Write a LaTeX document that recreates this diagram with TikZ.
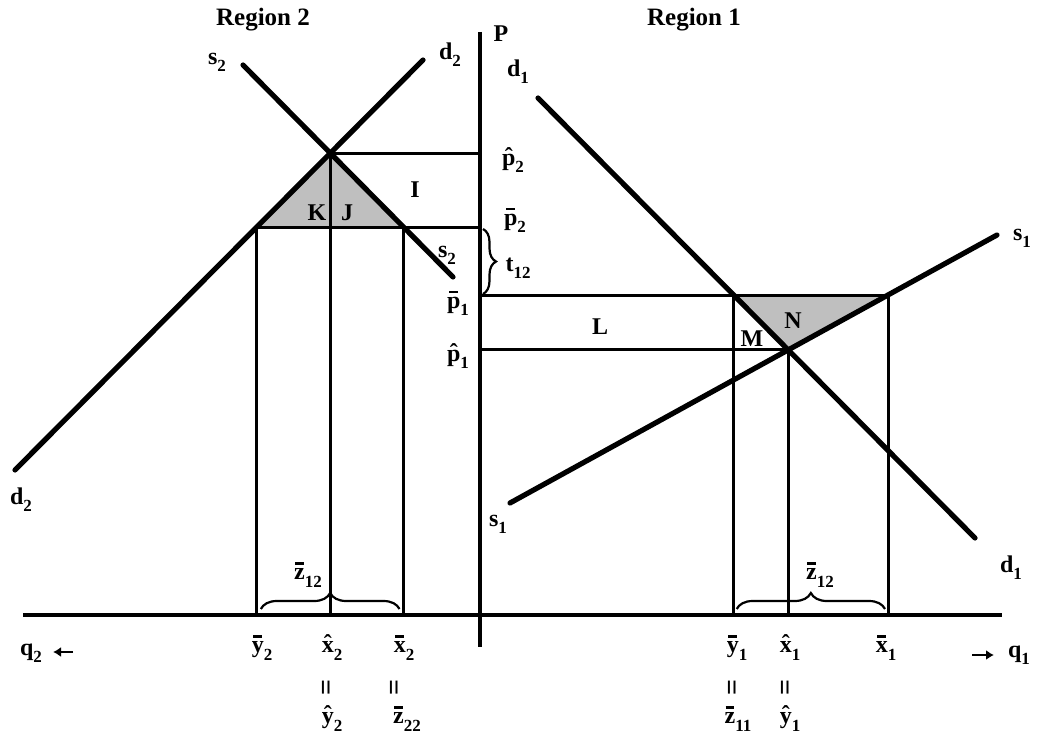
\documentclass[tikz,border=0pt]{standalone}
\usepackage{fontspec}
\setmainfont{Liberation Serif}
\usetikzlibrary{decorations.pathreplacing,arrows.meta,calc}
\newcommand\sbs[1]{\raisebox{-0.3em}{\fontsize{17}{17}\selectfont #1}}
\newcommand\hatac[1]{\ooalign{#1\cr\hidewidth\raisebox{0.04em}{\char"02C6}\hidewidth\cr}}
\newcommand\barac[1]{\ooalign{#1\cr\hidewidth\raisebox{0.64em}{\rule{0.36em}{0.09em}}\hidewidth\cr}}
\begin{document}
\begin{tikzpicture}[x=1pt,y=-1pt,
  every node/.style={inner sep=0pt, font=\fontsize{24}{24}\selectfont\bfseries},
  curve/.style={line width=5.2pt, line cap=round},
  guide/.style={line width=3pt},
  axisline/.style={line width=4.4pt},
  shade/.style={fill=black!25},
  brc/.style={decorate, decoration={brace, amplitude=#1}, line width=2.2pt},
  ttl/.style={font=\fontsize{25}{25}\selectfont\bfseries, anchor=base},
  eqs/.style={rotate=90, font=\fontsize{28}{28}\selectfont\bfseries},
  qarrow/.style={line width=2.8pt, -{Latex[length=8pt,width=10pt]}}]
\path[use as bounding box] (0,0) rectangle (1043,738);
% axes
\coordinate (Ptop) at (480,32);
\coordinate (Pbot) at (480,647);
\coordinate (Ql) at (23,615);
\coordinate (Qr) at (1002,615);
% region 2 curves
\coordinate (s2a) at (243,65);
\coordinate (s2b) at (453,277);
\coordinate (d2a) at (15,470);
\coordinate (d2b) at (423,60);
\coordinate (E2) at (intersection of s2a--s2b and d2a--d2b);
\coordinate (h2a) at (0,227);
\coordinate (h2b) at (480,227);
\coordinate (A2) at (intersection of d2a--d2b and h2a--h2b);
\coordinate (B2) at (intersection of s2a--s2b and h2a--h2b);
% region 1 curves
\coordinate (d1a) at (538,98);
\coordinate (d1b) at (975,538);
\coordinate (s1a) at (510,503);
\coordinate (s1b) at (997,235);
\coordinate (E1) at (intersection of d1a--d1b and s1a--s1b);
\coordinate (h1a) at (480,295);
\coordinate (h1b) at (1000,295);
\coordinate (A1) at (intersection of d1a--d1b and h1a--h1b);
\coordinate (B1) at (intersection of s1a--s1b and h1a--h1b);
% shaded triangles
\fill[shade] (A2) -- (E2) -- (B2) -- cycle;
\fill[shade] (A1) -- (B1) -- (E1) -- cycle;
% guide lines
\draw[guide] (E2) -- (E2 -| Ptop);
\draw[guide] (A2) -- (A2 -| Ptop);
\draw[guide] (A2) -- (A2 |- Ql);
\draw[guide] (E2) -- (E2 |- Ql);
\draw[guide] (B2) -- (B2 |- Ql);
\draw[guide] (B1 -| Ptop) -- (B1);
\draw[guide] (E1 -| Ptop) -- (E1);
\draw[guide] (A1) -- (A1 |- Ql);
\draw[guide] (E1) -- (E1 |- Ql);
\draw[guide] (B1) -- (B1 |- Ql);
% curves
\draw[curve] (s2a) -- (s2b);
\draw[curve] (d2a) -- (d2b);
\draw[curve] (d1a) -- (d1b);
\draw[curve] (s1a) -- (s1b);
% axes
\draw[axisline] (Ptop) -- (Pbot);
\draw[axisline] (Ql) -- (Qr);
% braces
\coordinate (bl1) at ($(A2 |- Ql)+(4,-6)$);
\coordinate (bl2) at ($(B2 |- Ql)+(-4,-6)$);
\draw[brc=16pt] (bl1) -- (bl2);
\coordinate (br1) at ($(A1 |- Ql)+(3,-6)$);
\coordinate (br2) at ($(B1 |- Ql)+(-3,-6)$);
\draw[brc=16pt] (br1) -- (br2);
\coordinate (t1) at ($(A2 -| Ptop)+(3,2)$);
\coordinate (t2) at ($(A1 -| Ptop)+(3,-1)$);
\draw[brc=13pt] (t1) -- (t2);
% titles
\node[ttl] (r2) at (263,26) {Region 2};
\node[ttl] (r1) at (694,26) {Region 1};
\node (P) at (501,34) {P};
% curve labels
\node (s2up) at (217,62) {s\sbs{2}};
\node (d2up) at (450,55) {d\sbs{2}};
\node (s2lo) at (447,255) {s\sbs{2}};
\node (d2lo) at (21,500) {d\sbs{2}};
\node (d1up) at (518,72) {d\sbs{1}};
\node (s1up) at (1022,238) {s\sbs{1}};
\node (s1lo) at (498,524) {s\sbs{1}};
\node (d1lo) at (1011,568) {d\sbs{1}};
% area labels
\node (K) at (317,213) {K};
\node (J) at (347,213) {J};
\node (I) at (415,190) {I};
\node (L) at (600,327) {L};
\node (M) at (752,339) {M};
\node (N) at (793,321) {N};
% price labels
\node (ph2) at (513,163) {\hatac{p}\sbs{2}};
\node (pb2) at (515,223) {\barac{p}\sbs{2}};
\node (t12) at (518,268) {t\sbs{12}};
\node (pb1) at (458,306) {\barac{p}\sbs{1}};
\node (ph1) at (458,359) {\hatac{p}\sbs{1}};
% brace labels
\node (zl) at (308,578) {\barac{z}\sbs{12}};
\node (zr) at (820,578) {\barac{z}\sbs{12}};
% quantity labels
\node (yb2) at (262,651) {\barac{y}\sbs{2}};
\node (xh2) at (332,651) {\hatac{x}\sbs{2}};
\node (xb2) at (404,651) {\barac{x}\sbs{2}};
\node[eqs] (e1) at (329,688) {=};
\node[eqs] (e2) at (397,688) {=};
\node (yh2) at (332,722) {\hatac{y}\sbs{2}};
\node (zb22) at (407,722) {\barac{z}\sbs{22}};
\node (yb1) at (737,651) {\barac{y}\sbs{1}};
\node (xh1) at (790,651) {\hatac{x}\sbs{1}};
\node (xb1) at (886,651) {\barac{x}\sbs{1}};
\node[eqs] (e3) at (735,688) {=};
\node[eqs] (e4) at (788,688) {=};
\node (zb11) at (738,722) {\barac{z}\sbs{11}};
\node (yh1) at (790,722) {\hatac{y}\sbs{1}};
% axis names
\node (q2) at (31,653) {q\sbs{2}};
\node (q1) at (1019,655) {q\sbs{1}};
\coordinate (q2a) at (73,652);
\coordinate (q2b) at (53,652);
\coordinate (q1a) at (972,655);
\coordinate (q1b) at (994,655);
\draw[qarrow] (q2a) -- (q2b);
\draw[qarrow] (q1a) -- (q1b);
\end{tikzpicture}
\end{document}
